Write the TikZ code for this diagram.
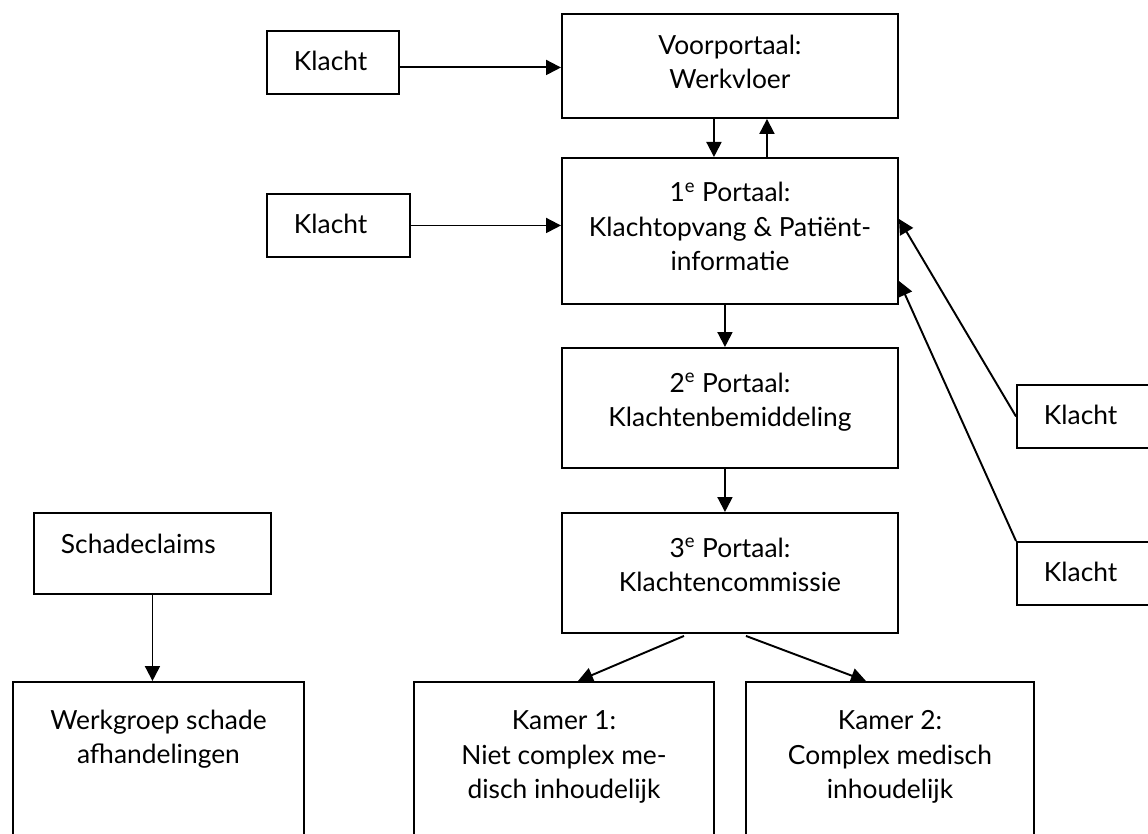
\documentclass[tikz,border=0pt]{standalone}
\usepackage{fontspec}
\setmainfont{Lato}
\usetikzlibrary{arrows.meta}

\begin{document}
\begin{tikzpicture}[
		box/.style={draw, line width=1.1pt, inner ysep=0pt, anchor=north west, font=\fontsize{15pt}{19.8pt}\selectfont},
		portal/.style={box, align=center, minimum width=6.72cm},
		kamer/.style={box, align=center},
		klacht/.style={box, align=left, inner xsep=0.54cm, text width=#1, text height=0.8cm, text depth=0.46cm},
		pijl/.style={line width=1.1pt, -{Triangle[length=0.3cm, width=0.3cm]}}
	]
		\useasboundingbox (0,0) rectangle (22.96,-16.66);
		\clip (0,0) rectangle (22.96,-16.66);
		
		% Portalen
		\node[portal, text height=1.50cm, text depth=0.58cm] (vp) at (11.22,-0.26) {Voorportaal:\\Werkvloer};
		\node[portal, text height=2.26cm, text depth=0.66cm] (p1) at (11.22,-3.14) {1\textsuperscript{e} Portaal:\\Klachtopvang \& Patiënt-\\informatie};
		\node[portal, text height=1.58cm, text depth=0.82cm] (p2) at (11.22,-6.94) {2\textsuperscript{e} Portaal:\\Klachtenbemiddeling};
		\node[portal, text height=1.58cm, text depth=0.82cm] (p3) at (11.22,-10.24) {3\textsuperscript{e} Portaal:\\Klachtencommissie};
		
		% Klachten
		\node[klacht=1.56cm] (k1) at (5.32,-0.60) {Klacht};
		\node[klacht=1.78cm] (k2) at (5.32,-3.86) {Klacht};
		\node[klacht=2.2cm] (kr1) at (20.32,-7.68) {Klacht};
		\node[klacht=2.2cm] (kr2) at (20.32,-10.82) {Klacht};
		
		% Kamers
		\node[kamer, minimum width=6.0cm, text height=2.34cm, text depth=1.06cm] (km1) at (8.26,-13.62) {Kamer 1:\\Niet complex me-\\disch inhoudelijk};
		\node[kamer, minimum width=5.76cm, text height=2.34cm, text depth=1.06cm] (km2) at (14.90,-13.62) {Kamer 2:\\Complex medisch\\inhoudelijk};
		
		% Schade
		\node[klacht=3.66cm, text height=0.82cm, text depth=0.8cm] (sc) at (0.66,-10.24) {Schadeclaims};
		\node[kamer, minimum width=5.82cm, text height=1.64cm, text depth=1.76cm] (wg) at (0.24,-13.62) {Werkgroep schade\\afhandelingen};
		
		% Pijlen
		\draw[pijl] ([yshift=-0.1cm]k1.east) -- ([yshift=-0.1cm]k1.east -| vp.west);
		\draw[pijl] (k2.east) -- (k2.east -| p1.west);
		\draw[pijl] ([xshift=-0.32cm]vp.south) -- ([xshift=-0.32cm]vp.south |- p1.north);
		\draw[pijl] ([xshift=0.74cm]p1.north) -- ([xshift=0.74cm]p1.north |- vp.south);
		\draw[pijl] ([xshift=-0.1cm]p1.south) -- ([xshift=-0.1cm]p1.south |- p2.north);
		\draw[pijl] ([xshift=-0.1cm]p2.south) -- ([xshift=-0.1cm]p2.south |- p3.north);
		\draw[pijl] ([shift={(-0.92cm,-0.04cm)}]p3.south) -- ([xshift=0.28cm]km1.north);
		\draw[pijl] ([shift={(0.32cm,-0.04cm)}]p3.south) -- ([xshift=-0.48cm]km2.north);
		\draw[pijl] (kr1.west) -- ([yshift=0.24cm]p1.east);
		\draw[pijl] (kr2.north west) -- ([yshift=-1.0cm]p1.east);
		\draw[pijl] (sc.south) -- (sc.south |- wg.north);
		
	\end{tikzpicture}
\end{document}
